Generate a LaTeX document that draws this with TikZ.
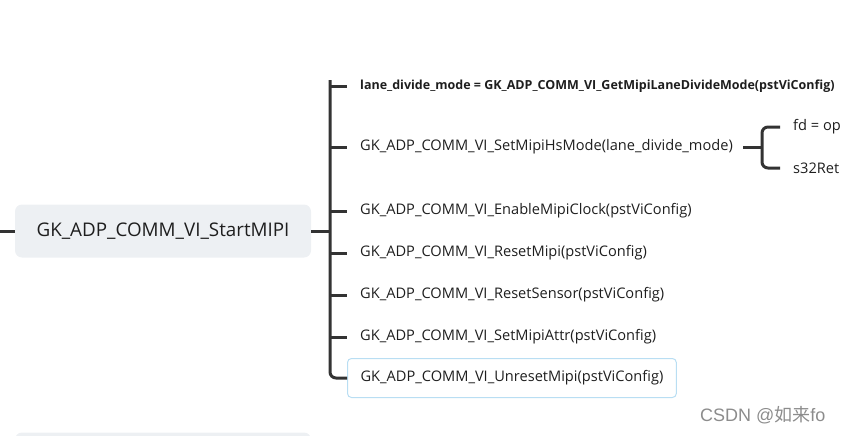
\documentclass[tikz,border=0pt]{standalone}
\usepackage{fontspec}
\setmainfont{Open Sans}
\newfontfamily\wmfont{Liberation Sans}
\newfontfamily\cjk{Noto Sans CJK SC}
\usetikzlibrary{positioning}
\definecolor{topicbg}{RGB}{237,240,243}
\definecolor{branch}{RGB}{51,51,51}
\definecolor{selc}{RGB}{185,222,243}
\definecolor{wm}{RGB}{140,140,140}
\definecolor{ink}{RGB}{30,30,30}

\begin{document}
\begin{tikzpicture}[x=1pt, y=-1pt,
  topic/.style={fill=topicbg, rounded corners=7pt, minimum width=296pt, minimum height=53pt, font=\fontsize{18.8}{22}\selectfont, text=ink},
  sub/.style={anchor=west, inner xsep=13pt, inner ysep=0pt, minimum height=39pt, font=\fontsize{14.6}{17}\selectfont, text=ink},
  conn/.style={draw=branch, line width=3pt, rounded corners=6pt}]
\useasboundingbox (0,0) rectangle (843,436);
\node[topic] (start) at (163,231) {GK\_ADP\_COMM\_VI\_StartMIPI};
\node[topic] (next) at (163,459) {};
\coordinate (in) at (0,231);
% children of the topic
\node[sub, font=\fontsize{12.5}{15}\selectfont\bfseries] (c1) at (347,86) {lane\_divide\_mode = GK\_ADP\_COMM\_VI\_GetMipiLaneDivideMode(pstViConfig)};
\node[sub] (c2) at (347,147) {GK\_ADP\_COMM\_VI\_SetMipiHsMode(lane\_divide\_mode)};
\node[sub] (c3) at (347,211) {GK\_ADP\_COMM\_VI\_EnableMipiClock(pstViConfig)};
\node[sub] (c4) at (347,253) {GK\_ADP\_COMM\_VI\_ResetMipi(pstViConfig)};
\node[sub] (c5) at (347,295) {GK\_ADP\_COMM\_VI\_ResetSensor(pstViConfig)};
\node[sub] (c6) at (347,337) {GK\_ADP\_COMM\_VI\_SetMipiAttr(pstViConfig)};
\node[sub, draw=selc, line width=1pt, rounded corners=4pt] (c7) at (347,378) {GK\_ADP\_COMM\_VI\_UnresetMipi(pstViConfig)};
\node[sub] (fd) at (780,127) {fd = op};
\node[sub] (ret) at (780,168) {s32Ret};
% connectors
\draw[conn] (in) -- (start.west);
\draw[conn] ([xshift=-17pt]c1.west) -| ([xshift=-17pt]c7.west) -- (c7.west);
\draw[conn] (c1.west) -- ([xshift=-17pt]c1.west);
\draw[conn] (start.east) -- ([xshift=-17pt]c1.west |- start.east);
\foreach \i in {2,...,6}
  \draw[conn] ([xshift=-17pt]c\i.west) -- (c\i.west);
\draw[conn] (fd.west) -| ([xshift=-18pt]ret.west) -- (ret.west);
\draw[conn] ([xshift=-3pt]c2.east) -- ([xshift=-18pt]fd.west |- c2.east);
\node[anchor=east, text=wm, font=\wmfont\fontsize{18}{21}\selectfont] (mark) at (829,415) {CSDN @{\cjk 如来}fo};
\end{tikzpicture}
\end{document}
